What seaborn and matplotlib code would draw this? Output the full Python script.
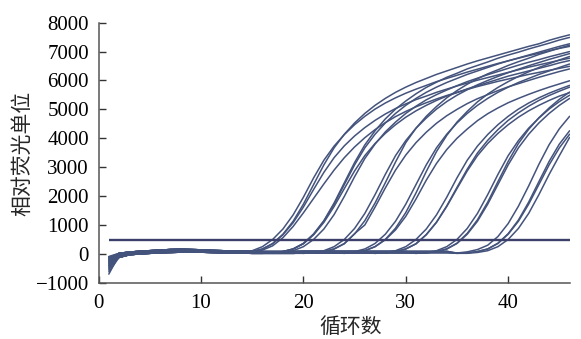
import pandas as pd
import seaborn as sns
import matplotlib.pyplot as plt

cycles = list(range(1, 47))
threshold = 470

# reading at cycle 1 for every well (the start-of-run drop)
first_cycle = [-700, -620, -560, -520, -480, -450, -420, -400, -380, -350, -330, -300,
               -280, -260, -240, -220, -200, -180, -160, -140, -120, -110, -100, -90]

# flat background, cycles 2..46
base_a = [-40, 10, 40, 60, 70, 90, 110, 110, 100, 90, 80, 70, 60, 60,
          50, 50, 50, 50, 50, 50,
          60, 60, 60, 60, 60, 60, 60, 60, 60, 60, 60, 60, 60, 60, 60, 60, 60, 60, 60, 60, 60, 60, 60, 60, 60]
base_b = [-120, -30, 0, 20, 40, 50, 60, 70, 60, 50, 40, 30, 30, 20,
          20, 20, 20, 20, 30, 30,
          30, 30, 30, 30, 30, 30, 30, 30, 30, 30, 30, 30, 30, 30, 30, 30, 30, 30, 30, 30, 30, 30, 30, 30, 30]
base_c = [20, 60, 90, 110, 130, 150, 160, 150, 140, 120, 110, 100, 90, 90,
          80, 80, 80, 80, 90, 90,
          90, 90, 90, 90, 90, 90, 90, 90, 90, 90, 90, 90, 90, 90, 90, 90, 90, 90, 90, 90, 90, 90, 90, 90, 90]

# amplification part of each well, running up to cycle 46
g1_a = [35, 80, 170, 360, 680, 1130, 1720, 2400, 3080, 3670, 4140, 4530, 4860, 5140, 5380, 5590, 5770,
        5930, 6070, 6210, 6330, 6450, 6570, 6680, 6780, 6880, 6980, 7080, 7180, 7270, 7390, 7490, 7580]
g1_b = [50, 110, 250, 500, 860, 1350, 1960, 2630, 3240, 3730, 4130, 4470, 4760, 5010, 5220, 5400, 5560,
        5700, 5830, 5960, 6070, 6180, 6290, 6390, 6490, 6590, 6680, 6770, 6860, 6940, 7030, 7110, 7180]
g1_c = [35, 80, 170, 350, 660, 1080, 1620, 2230, 2820, 3330, 3740, 4080, 4370, 4620, 4840, 5030, 5190,
        5340, 5460, 5590, 5700, 5810, 5910, 6010, 6100, 6190, 6280, 6370, 6460, 6540, 6620, 6700, 6770]
g1_d = [30, 60, 130, 280, 560, 950, 1420, 1920, 2420, 2900, 3330, 3700, 4020, 4300, 4540, 4750, 4930,
        5090, 5230, 5360, 5480, 5590, 5690, 5790, 5880, 5970, 6050, 6130, 6210, 6280, 6350, 6420, 6490]

g2_a = [35, 80, 170, 360, 680, 1130, 1720, 2400, 3080, 3670, 4140, 4530, 4860, 5140, 5380,
        5590, 5770, 5930, 6070, 6210, 6330, 6450, 6570, 6680, 6780, 6880, 6980, 7080, 7180, 7270]
g2_b = [20, 50, 110, 250, 500, 860, 1360, 1990, 2670, 3300, 3800, 4220, 4560, 4860, 5110,
        5330, 5510, 5670, 5820, 5960, 6080, 6200, 6310, 6420, 6530, 6630, 6720, 6820, 6910, 7000]
g2_c = [35, 80, 170, 350, 660, 1090, 1640, 2260, 2870, 3400, 3820, 4170, 4470, 4730, 4950,
        5140, 5310, 5460, 5580, 5710, 5820, 5930, 6040, 6150, 6240, 6330, 6420, 6510, 6610, 6690]
g2_d = [35, 80, 170, 360, 690, 1150, 1760, 2460, 3160, 3770, 4260, 4670, 5010, 5290, 5540,
        5760, 5940, 6110, 6250, 6400, 6520, 6640, 6770, 6880, 6980, 7090, 7190, 7290, 7400, 7490]

g3_a = [20, 35, 80, 170, 360, 690, 1150, 1760, 2460, 3180, 3850, 4350, 4760, 5100,
        5400, 5650, 5870, 6060, 6230, 6370, 6520, 6650, 6770, 6900, 7010, 7120, 7220]
g3_b = [20, 50, 110, 250, 500, 880, 1400, 2050, 2750, 3400, 3920, 4350, 4700, 5010,
        5270, 5490, 5680, 5850, 6000, 6140, 6270, 6390, 6510, 6620, 6730, 6830, 6930]
g3_c = [20, 35, 80, 170, 350, 700, 1000, 1620, 2280, 2900, 3420, 3850, 4210, 4520,
        4780, 5000, 5200, 5370, 5510, 5650, 5780, 5890, 6000, 6110, 6210, 6310, 6400]

g4_a = [20, 50, 110, 250, 500, 890, 1430, 2110, 2850, 3540, 4100, 4560,
        4930, 5260, 5530, 5760, 5960, 6140, 6300, 6450, 6580, 6710, 6830]
g4_b = [35, 80, 170, 360, 680, 1130, 1720, 2400, 3080, 3670, 4140, 4530,
        4860, 5140, 5380, 5590, 5770, 5930, 6070, 6210, 6330, 6450, 6570]
g4_c = [20, 50, 110, 250, 490, 830, 1300, 1900, 2550, 3130, 3610, 4000,
        4320, 4610, 4850, 5050, 5230, 5380, 5520, 5650, 5770, 5880, 5990]

g5_a = [20, 35, 80, 170, 350, 670, 1100, 1660, 2300, 2930, 3490, 3930, 4300, 4620, 4880, 5110, 5310, 5480, 5630, 5770]
g5_b = [20, 50, 110, 250, 500, 860, 1350, 1960, 2630, 3240, 3730, 4130, 4470, 4760, 5010, 5220, 5400, 5560, 5700, 5830]
g5_c = [20, 35, 80, 170, 350, 660, 1090, 1640, 2260, 2870, 3400, 3820, 4170, 4470, 4730, 4950, 5140, 5310, 5460, 5580]

g6_a = [20, 35, 80, 170, 370, 710, 1180, 1790, 2500, 3200, 3820, 4310, 4710, 5050, 5350, 5600]
g6_b = [20, 50, 110, 250, 500, 880, 1400, 2050, 2750, 3400, 3920, 4350, 4700, 5010, 5270, 5490]
g6_c = [20, 35, 80, 170, 360, 680, 1130, 1720, 2400, 3080, 3670, 4140, 4530, 4860, 5140, 5380]

g7_a = [30, 70, 150, 300, 600, 1050, 1650, 2350, 3100, 3780, 4330, 4760]
g7_b = [20, 35, 80, 170, 360, 680, 1130, 1720, 2400, 3080, 3670, 4140]
g7_c = [20, 35, 80, 170, 370, 700, 1170, 1790, 2500, 3200, 3800, 4260]
g7_d = [20, 20, 50, 110, 250, 500, 880, 1400, 2050, 2750, 3400, 4030]

wells = [
    (g1_a, base_a), (g1_b, base_b), (g1_c, base_c), (g1_d, base_a),
    (g2_a, base_b), (g2_b, base_c), (g2_c, base_a), (g2_d, base_b),
    (g3_a, base_c), (g3_b, base_a), (g3_c, base_b),
    (g4_a, base_c), (g4_b, base_a), (g4_c, base_b),
    (g5_a, base_c), (g5_b, base_a), (g5_c, base_b),
    (g6_a, base_c), (g6_b, base_a), (g6_c, base_b),
    (g7_a, base_c), (g7_b, base_a), (g7_c, base_b), (g7_d, base_c),
]

rows = []
for i, (rise, base) in enumerate(wells):
    start = len(cycles) + 1 - len(rise)
    vals = [first_cycle[i]] + base[:start - 2] + rise
    for c, v in zip(cycles, vals):
        rows.append({'well': i, 'cycle': c, 'rfu': v})
df = pd.DataFrame(rows)

sns.set_style('ticks')
plt.rcParams['font.family'] = ['Liberation Serif', 'Noto Sans CJK SC']
plt.rcParams['axes.unicode_minus'] = True

fig = plt.figure(figsize=(5.81, 3.39), dpi=100)
ax = fig.add_axes([0.1697, 0.1658, 0.8107, 0.7673])

sns.lineplot(data=df, x='cycle', y='rfu', units='well', estimator=None,
             color='#44537c', lw=1.1, ax=ax)
ax.hlines(threshold, cycles[0], cycles[-1], color='#3c3f6a', lw=1.7, zorder=3)

ax.set_xlim(0, 46)
ax.set_ylim(-1000, 8000)
ax.set_xticks([0, 10, 20, 30, 40])
ax.set_yticks(list(range(-1000, 8001, 1000)))
sns.despine(ax=ax)
for s in ['left', 'bottom']:
    ax.spines[s].set_color('#555555')
    ax.spines[s].set_linewidth(1.1)
ax.tick_params(direction='in', length=5, width=1, color='#333333',
               labelsize=15, labelcolor='black')
ax.tick_params(axis='y', pad=7)
ax.tick_params(axis='x', pad=8)

ax.set_xlabel('循环数', fontsize=15, family=['Noto Sans CJK SC'])
ax.set_ylabel('相对荧光单位', fontsize=15, family=['Noto Sans CJK SC'])
ax.xaxis.label.set_va('center')
ax.yaxis.label.set_va('center')
ax.xaxis.set_label_coords(0.536, -0.170)
ax.yaxis.set_label_coords(-0.163, 0.497)

fig.savefig('out.png', dpi=100)
